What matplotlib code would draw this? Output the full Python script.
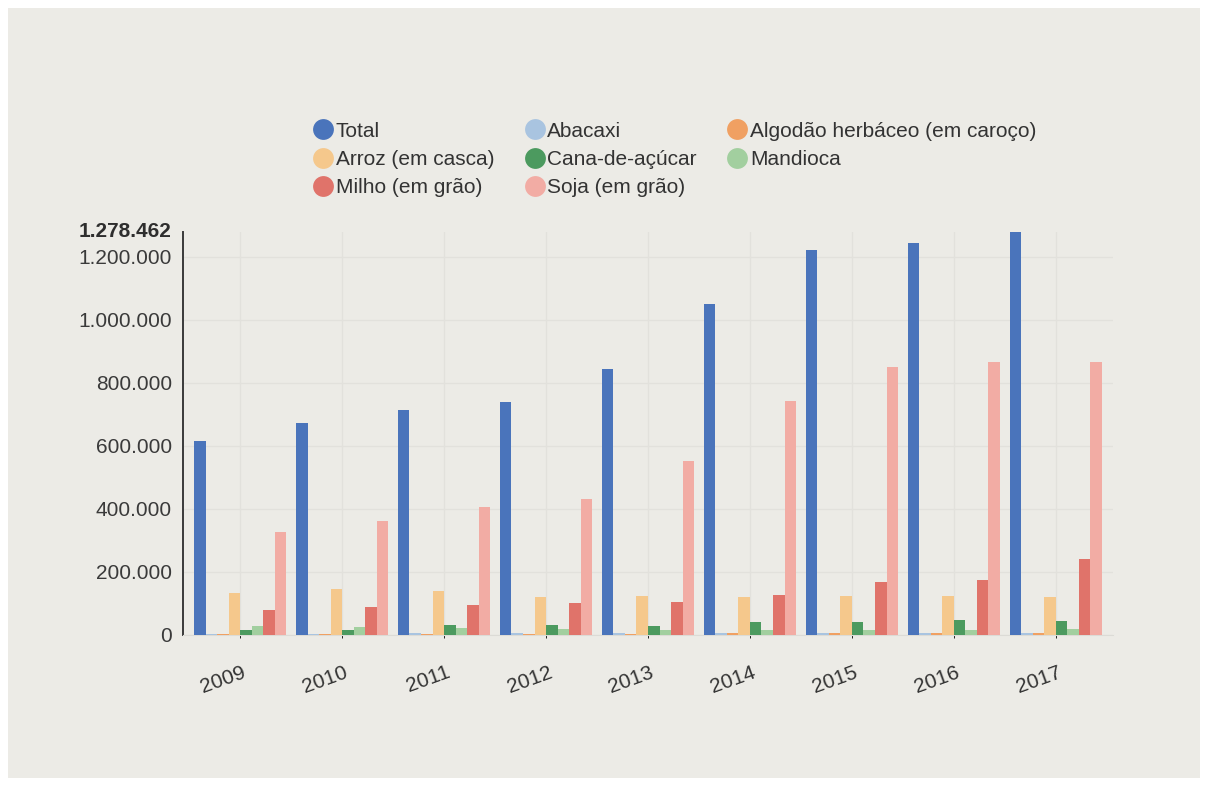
import numpy as np
import matplotlib.pyplot as plt
from matplotlib.patches import Rectangle
from matplotlib.lines import Line2D

plt.rcParams['font.family'] = ['Liberation Sans', 'DejaVu Sans']

YEARS = ["2009", "2010", "2011", "2012", "2013", "2014", "2015", "2016", "2017"]

# production values per crop (thousands)
total = [617, 672, 714, 740, 843, 1050, 1220, 1243, 1278.462]
abacaxi = [4, 4, 5, 5, 5, 5, 6, 6, 6]
algodao = [3, 3, 4, 4, 4, 5, 5, 6, 6]
arroz = [134, 147, 140, 122, 125, 120, 125, 123, 120]
cana = [16, 16, 32, 32, 30, 40, 42, 47, 45]
mandioca = [29, 26, 21, 19, 16, 15, 16, 15, 18]
milho = [80, 88, 95, 102, 105, 128, 169, 176, 240]
soja = [326, 363, 406, 430, 553, 742, 850, 866, 866]

SERIES = [
    ("Total", total, "#4a74bb"),
    ("Abacaxi", abacaxi, "#a9c4e0"),
    ("Algodão herbáceo (em caroço)", algodao, "#f0a062"),
    ("Arroz (em casca)", arroz, "#f5c88c"),
    ("Cana-de-açúcar", cana, "#4c9a5f"),
    ("Mandioca", mandioca, "#a2cf9f"),
    ("Milho (em grão)", milho, "#e0736a"),
    ("Soja (em grão)", soja, "#f2aca4"),
]

YMAX = 1278462
PAPER = "#ecebe6"

fig = plt.figure(figsize=(12.07, 7.90), dpi=100, facecolor="white")
fig.patches.append(Rectangle((8 / 1207, 12 / 790), 1192 / 1207, 770 / 790,
                             transform=fig.transFigure, facecolor=PAPER,
                             edgecolor="none", zorder=-5))

ax = fig.add_axes([183 / 1207, 1 - 635 / 790, 930 / 1207, 403 / 790])
ax.set_facecolor(PAPER)

x = np.arange(len(YEARS))
w = 0.113
for k, (name, vals, col) in enumerate(SERIES):
    ax.bar(x + (k - 3.5) * w, np.array(vals) * 1000, width=w, color=col,
           label=name, zorder=3)

ax.set_xlim(-0.56, 8.56)
ax.set_ylim(0, YMAX)

ticks = [0, 200000, 400000, 600000, 800000, 1000000, 1200000]
ax.set_yticks(ticks)
ax.set_yticklabels([f"{t:,}".replace(",", ".") for t in ticks],
                   fontsize=15, color="#3a3a3a")
# maximum value marked in bold at the top of the axis
ax.annotate(f"{YMAX:,}".replace(",", "."), xy=(0, YMAX),
            xycoords=ax.get_yaxis_transform(), xytext=(-8, 0),
            textcoords="offset points", ha="right", va="center",
            fontsize=15, fontweight="bold", color="#2e2e2e")

ax.set_xticks(x + 0.02)
ax.set_xticklabels(YEARS, rotation=20, ha="right", rotation_mode="anchor",
                   fontsize=15, color="#333333")
ax.tick_params(axis="both", length=0)
ax.tick_params(axis="y", pad=8)
ax.tick_params(axis="x", pad=20)

ax.set_axisbelow(True)
ax.grid(True, color="#e2e1dc", linewidth=1)
ax.set_xticks(x, minor=True)
ax.xaxis.grid(False)
ax.grid(True, which="minor", axis="x", color="#e2e1dc", linewidth=1)

for s in ["top", "right"]:
    ax.spines[s].set_visible(False)
ax.spines["left"].set_color("#3a3a3a")
ax.spines["left"].set_linewidth(1.4)
ax.spines["bottom"].set_color("#dcdbd6")

# legend laid out row by row: 3 columns
order = [0, 3, 6, 1, 4, 7, 2, 5]
handles = [Line2D([], [], marker="o", linestyle="none", markersize=15,
                  markerfacecolor=SERIES[i][2], markeredgecolor="none")
           for i in order]
labels = [SERIES[i][0] for i in order]
fig.legend(handles, labels, ncol=3, loc="upper left",
           bbox_to_anchor=(293 / 1207, 1 - 103 / 790), frameon=False,
           fontsize=15, handletextpad=0.05, handlelength=1.1,
           columnspacing=1.4, labelspacing=0.45, labelcolor="#333333")

fig.savefig("out.png", dpi=100, facecolor=fig.get_facecolor())
